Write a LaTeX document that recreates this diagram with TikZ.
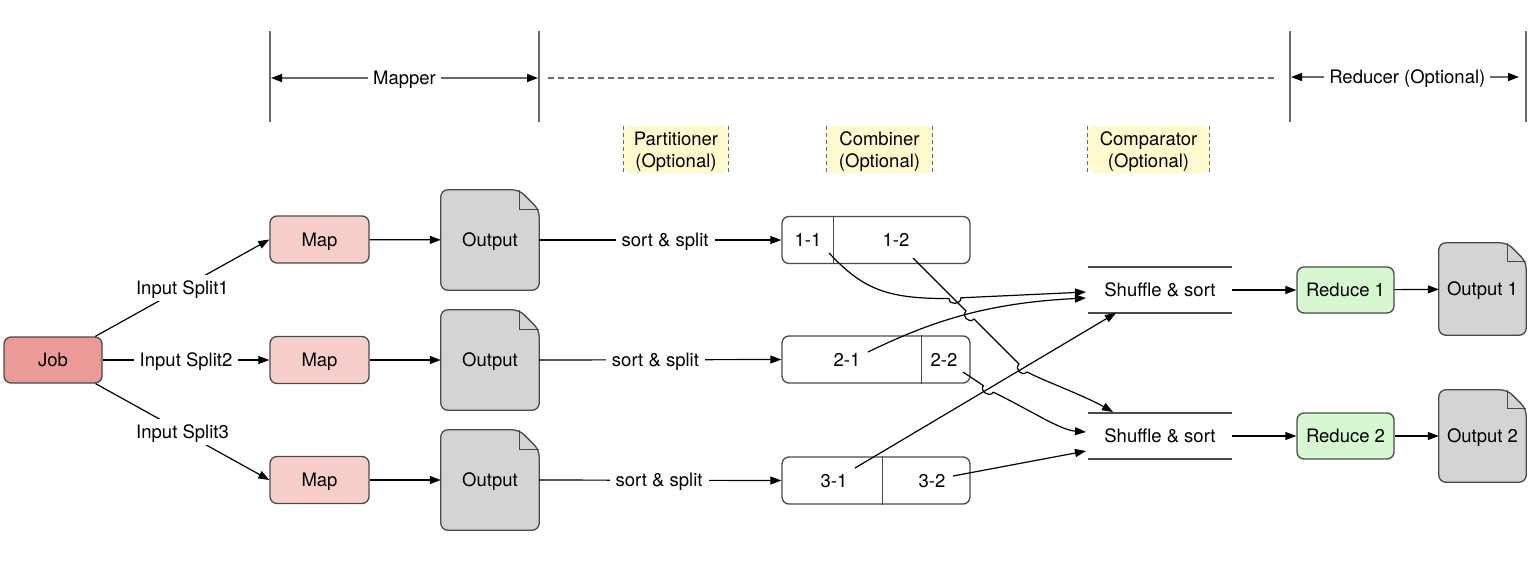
\documentclass[tikz,border=0pt]{standalone}
\usepackage{fontspec}
\setmainfont{TeX Gyre Heros}
\usetikzlibrary{arrows.meta,calc,backgrounds}
\definecolor{jobfill}{HTML}{EA9A97}
\definecolor{mapfill}{HTML}{F7CECC}
\definecolor{redfill}{HTML}{D6F7D0}
\definecolor{docfill}{HTML}{D4D4D4}
\definecolor{notefill}{HTML}{FFFACD}
\definecolor{strokegray}{HTML}{4A4A4A}
\definecolor{guidegray}{HTML}{6A6A6A}
\newcommand\docshape[2]{%
  \begin{scope}[on background layer]
  \draw[docline] ($(#1.north east)+(-#2,0)$) -- (#1.north west) -- (#1.south west) -- (#1.south east) -- ($(#1.north east)+(0,#2)$) -- cycle;
  \draw[docline, fill=none, rounded corners=0pt] ($(#1.north east)+(-#2,0)$) -- ($(#1.north east)+(-#2,#2)$) -- ($(#1.north east)+(0,#2)$);
  \end{scope}}
\begin{document}
\begin{tikzpicture}[x=1pt,y=-1pt,
  every node/.style={font=\fontsize{18.5}{21.5}\selectfont, inner sep=0pt, text height=13.4pt, text depth=0pt},
  box/.style={draw=strokegray, line width=1.3pt, rounded corners=7pt, minimum width=99pt, minimum height=47pt},
  jobbox/.style={box, fill=jobfill, minimum width=98pt, minimum height=46pt},
  mapbox/.style={box, fill=mapfill},
  redbox/.style={box, fill=redfill, minimum width=97pt, minimum height=46pt},
  pbox/.style={box, minimum width=188pt, minimum height=47pt},
  docnode/.style={minimum width=98pt, minimum height=100pt},
  docline/.style={draw=strokegray, fill=docfill, line width=1.3pt, rounded corners=7pt},
  notebox/.style={fill=notefill, rounded corners=6pt, minimum width=105pt, minimum height=47pt, align=center, text height=35pt, text depth=0pt},
  notedash/.style={draw=guidegray, dashed, dash pattern=on 4pt off 3pt, line width=1.3pt},
  shnode/.style={minimum width=144pt, minimum height=46pt},
  shline/.style={draw=strokegray, line width=1.5pt},
  guide/.style={draw=guidegray, line width=1.5pt},
  arr/.style={draw=black, line width=1.2pt, -{Triangle[length=11pt,width=8pt]}},
  hdrarr/.style={draw=guidegray, line width=1.5pt, {Triangle[length=11pt,width=8pt,color=black]}-{Triangle[length=11pt,width=8pt,color=black]}},
  lbl/.style={fill=white, inner sep=6pt},
  hlbl/.style={fill=white, inner sep=5pt}
]
\useasboundingbox (0,0) rectangle (1540,566);

% ---------- header ----------
\coordinate (v1t) at (270,31);  \coordinate (v1b) at (270,122);
\coordinate (v2t) at (539,31);  \coordinate (v2b) at (539,122);
\coordinate (v3t) at (1290,31); \coordinate (v3b) at (1290,122);
\coordinate (v4t) at (1526,31); \coordinate (v4b) at (1526,122);
\draw[guide] (v1t) -- (v1b) (v2t) -- (v2b) (v3t) -- (v3b) (v4t) -- (v4b);
\coordinate (mapL) at (271,78); \coordinate (mapR) at (538,78);
\draw[hdrarr] (mapL) -- node[hlbl]{Mapper} (mapR);
\coordinate (dashL) at (548,78); \coordinate (dashR) at (1278,78);
\draw[draw=guidegray, line width=1.3pt, dash pattern=on 6pt off 4pt] (dashL) -- (dashR);
\coordinate (redL) at (1291,77); \coordinate (redR) at (1519,77);
\draw[hdrarr] (redL) -- node[hlbl, pos=0.51]{Reducer (Optional)} (redR);

% ---------- notes ----------
\node[notebox] (n1) at (676,149.5) {Partitioner\\(Optional)};
\node[notebox] (n2) at (879.5,149.5) {Combiner\\(Optional)};
\node[notebox, minimum width=121pt] (n3) at (1148.5,149.5) {Comparator\\(Optional)};
\foreach \n in {n1,n2,n3}{
  \draw[notedash] (\n.north west) -- (\n.south west) (\n.north east) -- (\n.south east);
}

% ---------- job, maps, outputs ----------
\node[jobbox] (job) at (53,360) {Job};
\node[mapbox] (m1) at (319.5,239.5) {Map};
\node[mapbox] (m2) at (319.5,360) {Map};
\node[mapbox] (m3) at (319.5,480) {Map};
\node[docnode] (o1) at (490,240) {Output};
\node[docnode] (o2) at (490,360) {Output};
\node[docnode] (o3) at (490,480) {Output};
\docshape{o1}{20}\docshape{o2}{20}\docshape{o3}{20}

\draw[arr] (job) -- node[lbl]{Input Split1} (m1.west);
\draw[arr] (job) -- node[lbl]{Input Split2} (m2);
\draw[arr] (job) -- node[lbl]{Input Split3} (m3.west);
\draw[arr] (m1) -- (o1);
\draw[arr] (m2) -- (o2);
\draw[arr] (m3) -- (o3);

% ---------- partitions ----------
\node[pbox] (pb1) at (876,240) {};
\node[pbox] (pb2) at (876,359.5) {};
\node[pbox] (pb3) at (876,480.5) {};
\draw[draw=strokegray, line width=1.3pt] ($(pb1.north west)+(52,0)$) -- ($(pb1.south west)+(52,0)$);
\draw[draw=strokegray, line width=1.3pt] ($(pb2.north west)+(140,0)$) -- ($(pb2.south west)+(140,0)$);
\draw[draw=strokegray, line width=1.3pt] ($(pb3.north west)+(101,0)$) -- ($(pb3.south west)+(101,0)$);
\node (p11) at (808,240) {1-1};
\node (p12) at (896,240) {1-2};
\node (p21) at (847,360) {2-1};
\node (p22) at (944,360) {2-2};
\node (p31) at (834,481) {3-1};
\node (p32) at (932,481) {3-2};

\draw[arr] (o1.east) -- node[lbl, pos=0.52]{sort \& split} (pb1.west);
\draw[arr] (o2.east) -- node[lbl, pos=0.48]{sort \& split} (pb2.west);
\draw[arr] (o3.east) -- node[lbl, pos=0.495]{sort \& split} (pb3.west);

% ---------- shuffle & sort ----------
\node[shnode] (s1) at (1160,290) {Shuffle \& sort};
\node[shnode] (s2) at (1160,436) {Shuffle \& sort};
\foreach \s in {s1,s2}{
  \draw[shline] (\s.north west) -- (\s.north east) (\s.south west) -- (\s.south east);
}

% ---------- reduce & outputs ----------
\node[redbox] (r1) at (1345.5,290) {Reduce 1};
\node[redbox] (r2) at (1345.5,436) {Reduce 2};
\node[docnode, minimum width=87pt, minimum height=92pt] (out1) at (1482.5,289) {Output 1};
\node[docnode, minimum width=87pt, minimum height=92pt] (out2) at (1482.5,436) {Output 2};
\docshape{out1}{19}\docshape{out2}{19}
\draw[arr] (s1) -- (r1);
\draw[arr] (s2) -- (r2);
\draw[arr] (r1) -- (out1);
\draw[arr] (r2) -- (out2);

% ---------- crossing connectors ----------
\coordinate (a0) at (829,253);
\coordinate (b0) at (913,258);
\coordinate (c0) at (868,352);
\coordinate (d0) at (963,372);
\coordinate (e0) at (855,468);
\coordinate (f0) at (953,476);
\coordinate (s1a) at (1086,292);
\coordinate (s1b) at (1086,298);
\coordinate (s1c) at (1116,313);
\coordinate (s2a) at (1113,412);
\coordinate (s2b) at (1086,432);
\coordinate (s2c) at (1086,451);

% 3-1 -> shuffle 1
\draw[arr] (e0) -- (s1c);
% 3-2 -> shuffle 2
\draw[arr] (f0) -- (s2c);
% 2-1 -> shuffle 1
\draw[arr] (c0) .. controls (930,322) and (985,303) .. (s1b);
% 1-1 -> shuffle 1 (jump over 1-2)
\draw[arr] (a0) .. controls (862,288) and (885,299) .. (949,298.5)
  .. controls (949,305.5) and (961,304.8) .. (961,297.8) -- (s1a);
% 1-2 -> shuffle 2 (jumps over 2-1 and 3-1)
\draw[arr] (b0) -- (966,311) .. controls (961,316) and (969,324) .. (974,319)
  -- (1019,364) .. controls (1014,369) and (1022,377) .. (1027,372)
  .. controls (1042,380) and (1085,396) .. (s2a);
% 2-2 -> shuffle 2 (jump over 3-1)
\draw[arr] (d0) -- (983.3,385.6) .. controls (979.4,391.4) and (989.4,398) .. (993.3,392.2)
  .. controls (1030,410) and (1060,430) .. (s2b);
\end{tikzpicture}
\end{document}
